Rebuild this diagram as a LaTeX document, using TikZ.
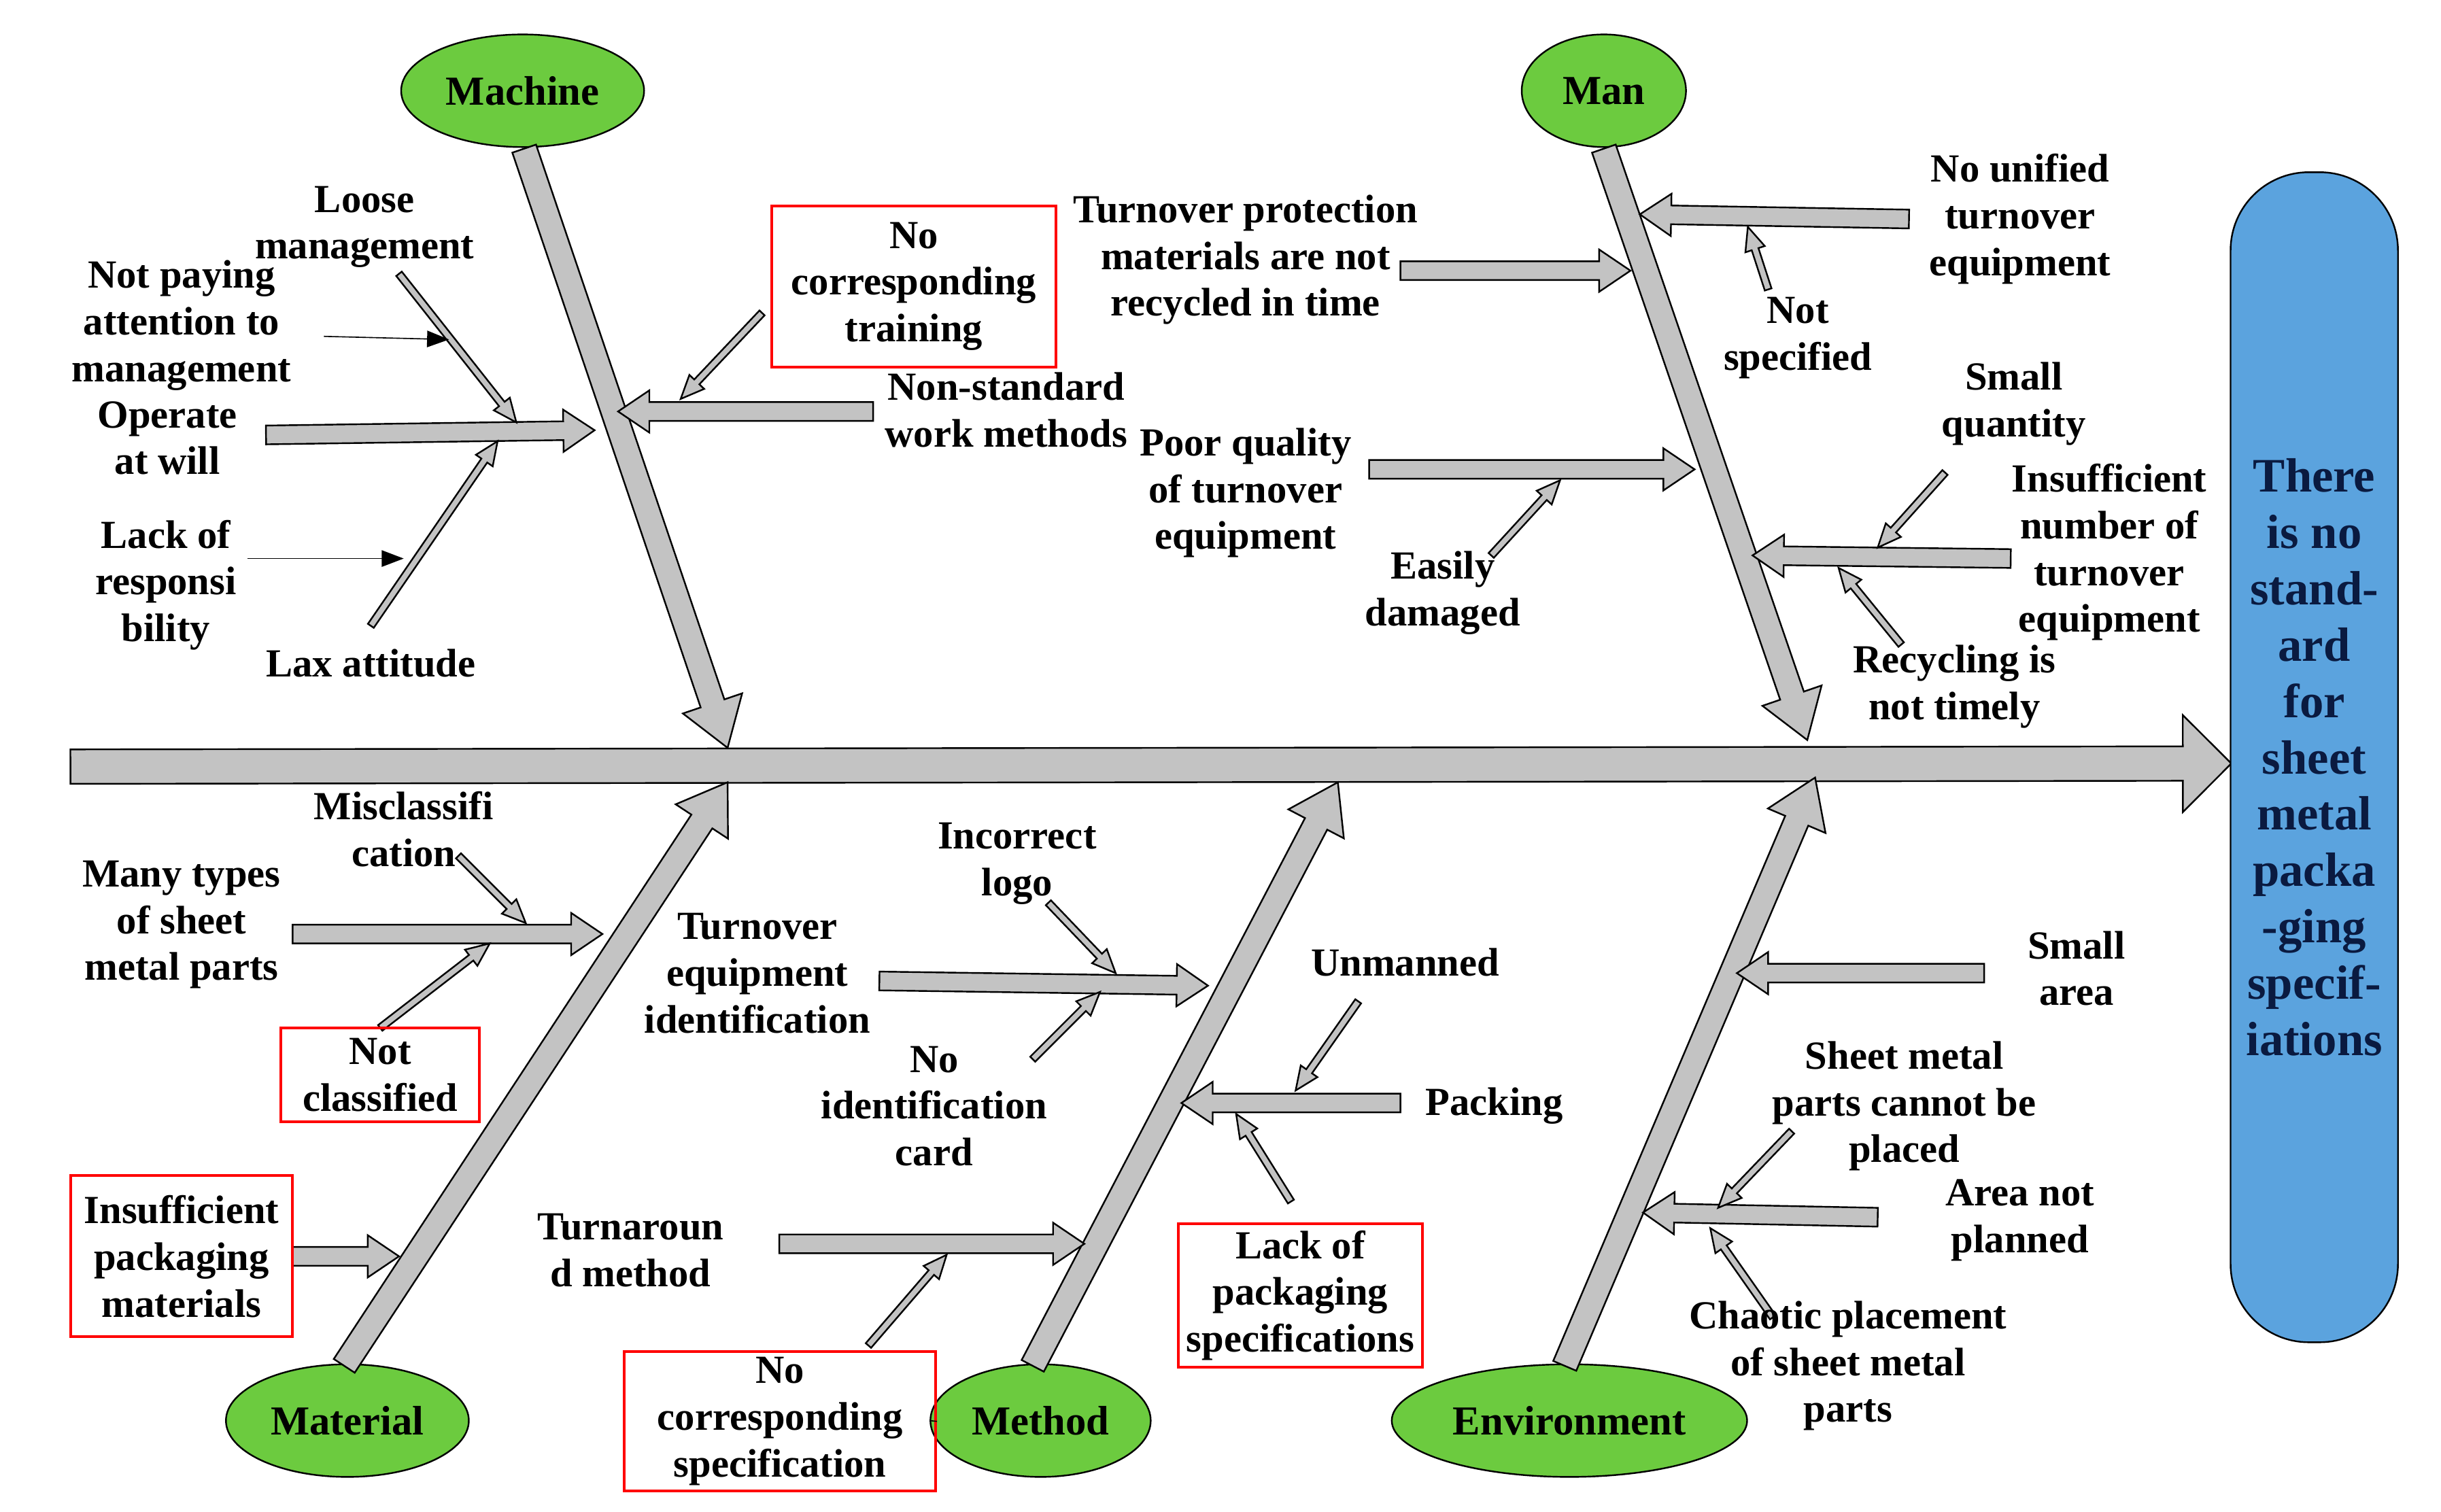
\documentclass[tikz,border=0pt]{standalone}
\usepackage{fontspec}
\setmainfont{Liberation Serif}
\usetikzlibrary{calc,shapes.geometric,arrows.meta}
\definecolor{agray}{HTML}{C3C3C3}
\definecolor{cgreen}{HTML}{6CCB3F}
\definecolor{cblue}{HTML}{5BA3DE}
\definecolor{tnavy}{HTML}{0A1A40}
\newcommand\farrow[5]{%
 \path ($(#2)!#4!(#1)$) coordinate (fah);
 \filldraw[fill=agray,draw=black,line width=0.6pt] ($(#1)!#3!90:(#2)$) -- ($(fah)!#3!-90:(#1)$) -- ($(fah)!#5!-90:(#1)$) -- (#2) -- ($(fah)!#5!90:(#1)$) -- ($(fah)!#3!90:(#1)$) -- ($(#1)!#3!-90:(#2)$) -- cycle;}
\newcommand\bone[2]{\farrow{#1}{#2}{0.16cm}{0.6cm}{0.4cm}}
\newcommand\sarr[2]{\farrow{#1}{#2}{0.12cm}{0.4cm}{0.27cm}}
\newcommand\tarr[2]{\farrow{#1}{#2}{0.045cm}{0.3cm}{0.13cm}}
\begin{document}
\begin{tikzpicture}[x=0.02cm,y=-0.02cm,
 lbl/.style={align=center,font=\fontsize{14.5}{17}\selectfont\bfseries,inner sep=1pt},
 cat/.style={ellipse,fill=cgreen,draw=black,line width=0.6pt,font=\fontsize{15}{18}\selectfont\bfseries,minimum height=1.44cm},
 rbox/.style={draw=red,line width=1pt}]
\useasboundingbox (0,0) rectangle (1560,966);
% spine
\coordinate (s0) at (45,490); \coordinate (s1) at (1426,488);
\farrow{s0}{s1}{0.22cm}{0.62cm}{0.62cm}
% category nodes
\node[cat,minimum width=2.3cm] (mach) at (334,58) {Machine};
\node[cat,minimum width=2.1cm] (man) at (1025,58) {Man};
\node[cat,minimum width=2.6cm] (mat) at (222,908) {Material};
\node[cat,minimum width=2.1cm] (meth) at (665,908) {Method};
\node[cat,minimum width=3.3cm] (env) at (1003,908) {Environment};
% bones
\coordinate (b1a) at (335,95); \coordinate (b1b) at (465,478); \bone{b1a}{b1b}
\coordinate (b2a) at (1025,95); \coordinate (b2b) at (1155,473); \bone{b2a}{b2b}
\coordinate (b3a) at (220,873); \coordinate (b3b) at (465,500); \bone{b3a}{b3b}
\coordinate (b4a) at (660,873); \coordinate (b4b) at (855,500); \bone{b4a}{b4b}
\coordinate (b5a) at (1000,873); \coordinate (b5b) at (1160,497); \bone{b5a}{b5b}
% effect
\node[fill=cblue,draw=black,line width=0.6pt,rounded corners=1cm,minimum width=2.14cm,minimum height=14.96cm] (eff) at (1479,484) {};
\node[align=center,text=tnavy,font=\fontsize{17.5}{20.5}\selectfont\bfseries] (efft) at (1479,484) {There\\is no\\stand-\\ard\\for\\sheet\\metal\\packa\\-ging\\specif-\\iations};
% Machine
\coordinate (m1a) at (170,278); \coordinate (m1b) at (380,275); \sarr{m1a}{m1b}
\coordinate (m2a) at (558,263); \coordinate (m2b) at (395,263); \sarr{m2a}{m2b}
\coordinate (m3a) at (255,175); \coordinate (m3b) at (330,270); \tarr{m3a}{m3b}
\coordinate (m4a) at (237,400); \coordinate (m4b) at (318,282); \tarr{m4a}{m4b}
\coordinate (m5a) at (487,200); \coordinate (m5b) at (435,255); \tarr{m5a}{m5b}
\coordinate (m6a) at (207,215); \coordinate (m6b) at (287,217);
\draw[-{Triangle[length=8pt,width=6pt]}] (m6a) -- (m6b);
\coordinate (m7a) at (158,357); \coordinate (m7b) at (258,357);
\draw[-{Triangle[length=8pt,width=6pt]}] (m7a) -- (m7b);
\node[lbl] (t1) at (233,145) {Loose\\management};
\node[lbl] (t2) at (116,208) {Not paying\\attention to\\management};
\node[lbl] (t3) at (107,280) {Operate\\at will};
\node[lbl] (t4) at (106,374) {Lack of\\responsi\\bility};
\node[lbl] (t5) at (237,424) {Lax attitude};
\node[lbl] (t6) at (643,262) {Non-standard\\work methods};
\node[lbl,rbox,minimum width=3.64cm,minimum height=2.06cm] (t7) at (584,183) {No\\corresponding\\training};
% Man
\coordinate (n1a) at (895,173); \coordinate (n1b) at (1042,173); \sarr{n1a}{n1b}
\coordinate (n2a) at (1220,140); \coordinate (n2b) at (1048,137); \sarr{n2a}{n2b}
\coordinate (n3a) at (1130,185); \coordinate (n3b) at (1117,145); \tarr{n3a}{n3b}
\coordinate (n4a) at (875,300); \coordinate (n4b) at (1083,300); \sarr{n4a}{n4b}
\coordinate (n5a) at (953,355); \coordinate (n5b) at (997,307); \tarr{n5a}{n5b}
\coordinate (n6a) at (1285,357); \coordinate (n6b) at (1120,355); \sarr{n6a}{n6b}
\coordinate (n7a) at (1243,302); \coordinate (n7b) at (1200,350); \tarr{n7a}{n7b}
\coordinate (n8a) at (1215,412); \coordinate (n8b) at (1175,363); \tarr{n8a}{n8b}
\node[lbl] (u1) at (796,166) {Turnover protection\\materials are not\\recycled in time};
\node[lbl] (u2) at (1291,140) {No unified\\turnover\\equipment};
\node[lbl] (u3) at (1149,216) {Not\\specified};
\node[lbl] (u4) at (1287,258) {Small\\quantity};
\node[lbl] (u5) at (796,315) {Poor quality\\of turnover\\equipment};
\node[lbl] (u6) at (922,379) {Easily\\damaged};
\node[lbl] (u7) at (1348,353) {Insufficient\\number of\\turnover\\equipment};
\node[lbl] (u8) at (1249,439) {Recycling is\\not timely};
% Material
\coordinate (a1a) at (187,597); \coordinate (a1b) at (385,597); \sarr{a1a}{a1b}
\coordinate (a2a) at (293,547); \coordinate (a2b) at (336,590); \tarr{a2a}{a2b}
\coordinate (a3a) at (243,657); \coordinate (a3b) at (313,603); \tarr{a3a}{a3b}
\coordinate (a4a) at (187,803); \coordinate (a4b) at (255,803); \sarr{a4a}{a4b}
\node[lbl] (v1) at (258,530) {Misclassifi\\cation};
\node[lbl] (v2) at (116,591) {Many types\\of sheet\\metal parts};
\node[lbl,rbox,minimum width=2.54cm,minimum height=1.2cm] (v3) at (243,687) {Not\\classified};
\node[lbl,rbox,minimum width=2.84cm,minimum height=2.06cm] (v4) at (116,803) {Insufficient\\packaging\\materials};
% Method
\coordinate (e1a) at (562,627); \coordinate (e1b) at (772,630); \sarr{e1a}{e1b}
\coordinate (e2a) at (670,577); \coordinate (e2b) at (713,622); \tarr{e2a}{e2b}
\coordinate (e3a) at (660,677); \coordinate (e3b) at (703,634); \tarr{e3a}{e3b}
\coordinate (e4a) at (895,705); \coordinate (e4b) at (755,705); \sarr{e4a}{e4b}
\coordinate (e5a) at (868,640); \coordinate (e5b) at (828,697); \tarr{e5a}{e5b}
\coordinate (e6a) at (825,768); \coordinate (e6b) at (790,712); \tarr{e6a}{e6b}
\coordinate (e7a) at (498,795); \coordinate (e7b) at (693,795); \sarr{e7a}{e7b}
\coordinate (e8a) at (555,860); \coordinate (e8b) at (605,802); \tarr{e8a}{e8b}
\node[lbl] (w1) at (484,622) {Turnover\\equipment\\identification};
\node[lbl] (w2) at (650,552) {Incorrect\\logo};
\node[lbl] (w3) at (597,707) {No\\identification\\card};
\node[lbl] (w4) at (898,615) {Unmanned};
\node[lbl] (w5) at (955,707) {Packing};
\node[lbl] (w6) at (403,799) {Turnaroun\\d method};
\node[lbl,rbox,minimum width=3.12cm,minimum height=1.84cm] (w7) at (831,828) {Lack of\\packaging\\specifications};
\node[lbl,rbox,minimum width=3.98cm,minimum height=1.78cm] (w8) at (498.5,908.5) {No\\corresponding\\specification};
\draw (w8.east) -- (meth.west);
% Environment
\coordinate (f1a) at (1268,622); \coordinate (f1b) at (1110,622); \sarr{f1a}{f1b}
\coordinate (f2a) at (1200,778); \coordinate (f2b) at (1050,775); \sarr{f2a}{f2b}
\coordinate (f3a) at (1145,723); \coordinate (f3b) at (1098,772); \tarr{f3a}{f3b}
\coordinate (f4a) at (1133,842); \coordinate (f4b) at (1093,785); \tarr{f4a}{f4b}
\node[lbl] (x1) at (1327,619) {Small\\area};
\node[lbl] (x2) at (1217,707) {Sheet metal\\parts cannot be\\placed};
\node[lbl] (x3) at (1291,780) {Area not\\planned};
\node[lbl] (x4) at (1181,873) {Chaotic placement\\of sheet metal\\parts};
\end{tikzpicture}
\end{document}
